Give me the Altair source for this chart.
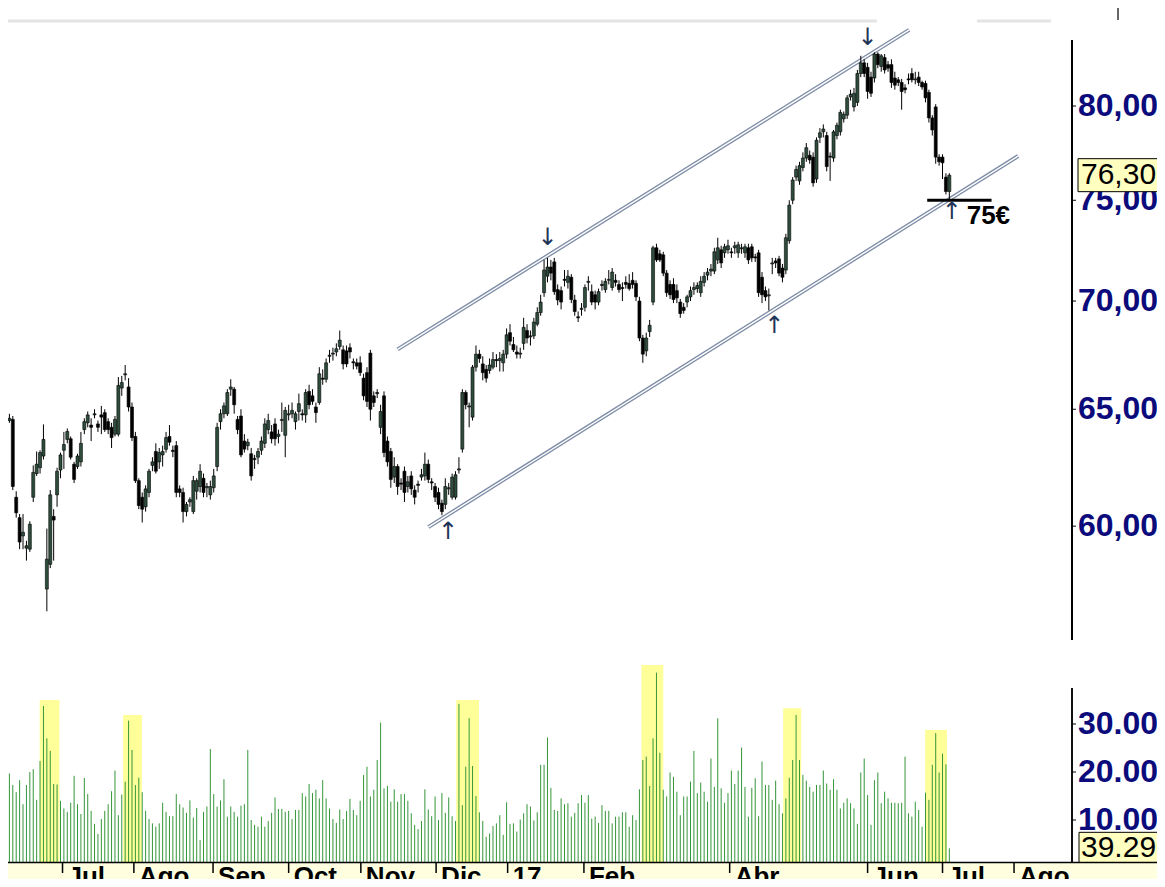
import altair as alt
import pandas as pd

# ---------------- data ----------------
opens = [
    64.3, 64.5, 64.55, 61.2, 60.35, 59.6, 59.1, 59.06, 61.2, 62.2,
    62.45, 62.95, 57.47, 58.45, 60.4, 61.3, 62.35, 63.2, 63.67, 63.7,
    62.6, 62.5, 62.7, 64.1, 64.4, 64.3, 64.75, 64.35, 64.75, 64.85,
    64.45, 64.2, 63.9, 63.9, 65.95, 66.55, 66.0, 65.1, 63.8, 61.9,
    61.2, 60.8, 61.4, 62.55, 63.15, 62.7, 63.0, 63.24, 63.8, 63.2,
    63.4, 61.55, 61.4, 60.6, 61.0, 60.6, 61.45, 61.65, 62.0, 61.6,
    61.3, 61.6, 62.5, 64.45, 64.8, 64.8, 65.9, 65.9, 64.55, 64.7,
    63.6, 63.4, 63.05, 62.85, 62.9, 63.2, 63.5, 64.1, 64.0, 64.35,
    63.8, 64.5, 63.85, 64.75, 64.8, 64.45, 64.9, 64.8, 64.75, 65.8,
    65.6, 65.1, 65.3, 66.4, 66.35, 67.4, 67.5, 67.6, 67.85, 67.7,
    67.65, 67.8, 67.15, 67.1, 67.1, 66.4, 66.65, 67.55, 65.6, 65.75,
    64.2, 65.6, 63.6, 63.15, 62.05, 62.5, 61.8, 62.3, 61.65, 62.1,
    61.5, 61.75, 62.05, 62.1, 62.6, 61.85, 61.65, 61.4, 60.95, 60.9,
    61.55, 61.2, 61.2, 62.35, 63.25, 65.75, 65.1, 64.65, 66.9, 67.5,
    67.05, 66.8, 66.75, 66.9, 67.25, 67.2, 67.1, 67.5, 68.5, 67.95,
    67.6, 67.5, 68.0, 68.6, 68.3, 68.35, 68.9, 69.45, 70.4, 71.2,
    71.65, 71.9, 70.55, 70.5, 71.05, 70.9, 71.15, 70.05, 69.25, 69.6,
    69.7, 70.9, 70.45, 70.3, 69.95, 70.8, 70.55, 71.0, 70.65, 71.0,
    70.8, 70.65, 70.9, 70.85, 71.0, 70.85, 70.0, 68.25, 67.65, 68.55,
    69.95, 72.6, 72.3, 72.25, 71.35, 70.8, 70.8, 70.5, 69.95, 69.7,
    69.95, 70.2, 70.55, 70.6, 70.4, 70.9, 71.25, 71.45, 71.45, 72.0,
    72.5, 72.35, 72.5, 72.4, 72.6, 72.35, 72.55, 72.35, 72.6, 72.65,
    72.15, 72.35, 71.15, 70.5, 70.25, 71.8, 71.95, 72.05, 71.6, 71.5,
    72.95, 75.0, 76.2, 76.0, 76.7, 77.2, 77.35, 77.25, 76.1, 78.3,
    78.6, 78.4, 77.3, 77.2, 78.4, 78.6, 79.3, 79.5, 80.5, 79.95,
    80.2, 81.8, 82.4, 82.15, 81.6, 81.55, 82.9, 82.2, 82.7, 82.3,
    82.3, 81.55, 81.45, 81.3, 81.0, 81.5, 81.8, 81.45, 81.6, 81.3,
    81.25, 80.75, 79.35, 79.95, 77.25, 77.25, 76.2, 75.45,
]
highs = [
    64.7, 64.8, 64.7, 61.45, 60.5, 60.5, 59.4, 60.2, 62.55, 63.15,
    63.2, 64.33, 59.9, 61.5, 60.7, 62.45, 63.1, 64.0, 64.15, 63.8,
    62.7, 63.05, 64.0, 64.6, 64.9, 64.6, 65.0, 64.5, 65.15, 65.0,
    64.6, 64.4, 64.7, 66.45, 66.5, 67.0, 66.4, 65.3, 64.0, 62.0,
    61.4, 61.7, 62.4, 62.9, 63.5, 63.3, 63.4, 64.0, 64.3, 63.4,
    63.6, 61.7, 61.6, 61.0, 61.2, 62.1, 62.0, 62.6, 62.2, 61.8,
    61.9, 62.4, 64.4, 65.0, 65.3, 65.9, 66.35, 66.0, 64.7, 65.0,
    63.9, 63.7, 63.3, 63.0, 63.3, 63.8, 64.6, 64.8, 64.3, 64.6,
    64.1, 65.3, 65.1, 65.2, 65.3, 64.9, 65.7, 65.0, 65.9, 66.1,
    65.9, 65.3, 66.9, 66.8, 67.3, 67.7, 67.8, 68.0, 68.6, 67.9,
    67.9, 68.0, 67.3, 67.3, 67.4, 66.6, 66.9, 67.7, 65.8, 65.9,
    65.2, 65.8, 63.8, 63.3, 62.9, 62.6, 62.0, 62.5, 62.1, 62.3,
    61.7, 61.9, 62.4, 63.1, 62.8, 62.0, 61.8, 61.6, 61.1, 62.0,
    61.8, 62.2, 62.3, 62.9, 65.9, 65.85, 65.3, 67.0, 67.9, 67.7,
    67.4, 67.0, 67.3, 67.6, 67.5, 67.6, 67.7, 68.7, 68.9, 68.3,
    67.9, 67.8, 69.2, 68.9, 68.6, 69.2, 69.7, 70.3, 72.0, 72.1,
    72.0, 72.1, 70.8, 70.7, 71.5, 71.5, 71.3, 70.3, 69.5, 69.9,
    70.8, 71.2, 70.8, 70.5, 70.6, 71.0, 71.1, 71.5, 71.6, 71.3,
    71.0, 70.9, 71.2, 71.3, 71.4, 71.0, 70.2, 68.4, 68.5, 69.1,
    72.7, 72.8, 72.5, 72.4, 71.5, 71.0, 71.1, 70.8, 70.1, 69.9,
    70.3, 70.7, 70.9, 70.9, 71.2, 71.4, 71.6, 71.8, 72.6, 73.1,
    72.7, 72.8, 73.0, 72.6, 72.9, 72.9, 72.8, 72.8, 72.8, 72.8,
    72.3, 72.5, 71.4, 70.7, 70.6, 72.1, 72.1, 72.2, 71.8, 73.3,
    75.0, 76.2, 76.8, 77.0, 77.5, 78.0, 77.6, 77.5, 78.3, 78.8,
    79.0, 78.6, 77.5, 78.7, 79.1, 79.8, 79.7, 80.6, 80.9, 81.0,
    82.0, 82.8, 82.6, 82.4, 81.9, 83.0, 83.0, 82.9, 82.9, 82.5,
    82.6, 81.9, 81.6, 81.5, 81.2, 81.8, 82.1, 81.9, 81.9, 81.4,
    81.4, 80.9, 79.5, 80.1, 77.4, 77.4, 76.4, 76.4,
]
lows = [
    64.2, 64.4, 61.5, 60.35, 59.06, 59.06, 58.6, 58.95, 61.0, 62.1,
    62.2, 62.8, 56.6, 58.3, 58.6, 60.8, 62.0, 62.4, 63.5, 62.8,
    61.8, 62.4, 62.5, 63.9, 64.2, 63.6, 64.6, 64.0, 63.9, 64.0,
    63.9, 63.3, 63.8, 63.8, 65.6, 66.3, 64.9, 63.6, 61.8, 60.7,
    60.15, 60.6, 61.2, 62.3, 62.2, 62.4, 62.5, 63.1, 63.4, 62.9,
    61.2, 61.2, 60.15, 60.4, 60.8, 60.5, 61.1, 61.4, 61.2, 61.2,
    61.1, 61.4, 62.3, 64.1, 64.6, 64.7, 65.6, 64.8, 63.9, 62.9,
    63.1, 63.2, 61.9, 62.4, 62.6, 63.0, 63.3, 63.9, 63.5, 63.4,
    63.5, 64.0, 62.9, 64.5, 64.6, 64.1, 64.5, 64.5, 64.4, 65.0,
    65.2, 64.4, 65.2, 66.1, 66.2, 67.1, 67.2, 67.4, 67.7, 66.8,
    66.9, 67.3, 66.8, 66.8, 66.5, 65.4, 65.1, 64.5, 65.1, 65.5,
    63.9, 62.9, 62.5, 61.6, 61.8, 61.3, 61.5, 61.0, 61.4, 61.3,
    60.9, 61.4, 61.9, 61.9, 61.8, 61.5, 61.0, 60.7, 60.45, 60.7,
    61.3, 61.1, 61.1, 62.2, 63.1, 65.0, 64.2, 64.5, 66.7, 67.1,
    66.3, 66.2, 66.6, 66.8, 66.9, 66.7, 66.7, 67.3, 67.9, 67.6,
    67.3, 67.3, 67.7, 68.0, 67.9, 68.2, 68.8, 69.3, 70.2, 70.9,
    71.0, 70.3, 69.8, 69.6, 70.7, 70.6, 69.9, 69.3, 69.0, 69.3,
    69.5, 70.5, 69.8, 69.6, 69.8, 70.5, 70.4, 70.8, 70.5, 70.7,
    70.4, 70.0, 70.6, 70.5, 70.6, 70.0, 68.1, 67.1, 67.4, 68.3,
    69.8, 71.9, 71.9, 71.2, 70.2, 70.1, 69.9, 69.9, 69.2, 69.4,
    69.7, 70.0, 70.3, 70.4, 70.2, 70.7, 71.0, 71.2, 71.3, 71.8,
    71.6, 72.1, 72.3, 72.1, 72.3, 72.1, 72.3, 72.1, 71.8, 71.9,
    71.9, 70.2, 69.9, 70.0, 69.55, 71.3, 71.6, 71.2, 70.9, 71.3,
    72.8, 74.8, 76.0, 75.8, 76.5, 77.0, 76.9, 75.7, 75.9, 78.0,
    78.3, 76.5, 76.0, 77.0, 78.2, 78.4, 79.1, 79.3, 80.3, 79.7,
    80.0, 81.6, 81.6, 80.4, 80.5, 81.3, 82.1, 81.9, 81.8, 81.9,
    81.0, 80.9, 81.1, 79.8, 80.7, 81.2, 81.3, 81.2, 81.1, 80.9,
    80.2, 79.1, 78.4, 76.9, 76.8, 76.1, 75.3, 75.0,
]
closes = [
    64.5, 64.6, 61.65, 60.55, 59.35, 59.75, 59.2, 60.08, 62.25, 62.6,
    63.1, 63.67, 58.66, 61.3, 60.25, 62.3, 63.0, 63.45, 64.02, 62.9,
    61.95, 62.95, 63.5, 64.45, 64.75, 64.2, 64.8, 64.2, 64.65, 64.1,
    64.1, 63.75, 64.55, 66.07, 66.2, 66.6, 65.1, 63.75, 61.9, 60.85,
    60.7, 61.55, 62.3, 62.7, 62.3, 63.1, 63.15, 63.75, 63.55, 63.15,
    61.4, 61.4, 60.6, 60.9, 61.1, 61.9, 61.9, 62.3, 61.4, 61.65,
    61.65, 62.1, 64.2, 64.8, 65.15, 65.75, 66.0, 65.2, 64.1, 63.0,
    63.25, 63.55, 62.1, 62.8, 63.15, 63.6, 64.35, 64.5, 63.7, 63.7,
    63.9, 64.55, 64.95, 64.8, 64.95, 64.8, 65.25, 64.75, 65.75, 65.2,
    65.35, 64.85, 66.6, 66.35, 67.1, 67.45, 67.55, 67.75, 68.15, 67.05,
    67.05, 67.6, 67.1, 66.95, 66.65, 65.6, 65.35, 65.0, 65.3, 65.7,
    64.9, 63.1, 62.7, 61.95, 62.5, 61.65, 61.75, 61.4, 61.85, 61.55,
    61.2, 61.7, 62.15, 62.6, 61.95, 61.8, 61.2, 60.9, 60.6, 61.65,
    61.6, 62.05, 62.15, 62.4, 65.75, 65.2, 65.15, 66.9, 67.5, 67.3,
    66.65, 66.4, 67.0, 67.25, 67.2, 67.3, 67.5, 68.4, 68.1, 67.7,
    67.5, 67.55, 68.75, 68.25, 68.35, 69.0, 69.45, 69.95, 71.5, 71.65,
    71.35, 70.45, 70.05, 69.95, 71.0, 71.2, 70.07, 69.5, 69.2, 69.65,
    70.65, 70.95, 69.95, 69.95, 70.45, 70.75, 70.95, 71.05, 71.4, 70.9,
    70.55, 70.6, 70.8, 70.6, 70.8, 70.2, 68.25, 67.5, 68.25, 68.85,
    72.6, 72.0, 72.0, 71.35, 70.4, 70.3, 70.07, 70.15, 69.4, 69.55,
    70.2, 70.5, 70.65, 70.75, 70.95, 71.2, 71.4, 71.55, 72.4, 72.6,
    71.85, 72.65, 72.7, 72.35, 72.7, 72.75, 72.6, 72.65, 72.0, 72.1,
    72.1, 70.4, 70.3, 70.2, 70.3, 71.85, 71.85, 71.35, 71.15, 73.1,
    74.75, 76.05, 76.6, 76.8, 77.2, 77.75, 77.1, 75.9, 78.15, 78.55,
    78.75, 76.75, 77.25, 78.6, 78.95, 79.65, 79.55, 80.45, 80.65, 80.7,
    81.8, 82.4, 81.8, 80.8, 80.7, 82.9, 82.3, 82.8, 82.0, 82.1,
    81.3, 81.15, 81.3, 80.8, 80.9, 81.45, 81.45, 81.5, 81.3, 81.05,
    80.45, 79.35, 78.7, 77.25, 77.0, 76.95, 75.45, 76.3,
]
# volume in thousands of shares
volumes = [
    22.3, 19.7, 17.3, 15.8, 18.3, 13.3, 17.3, 20.0, 20.6, 14.2,
    22.3, 33.75, 27.0, 24.4, 17.5, 17.4, 14.0, 12.4, 11.7, 13.6,
    19.2, 13.3, 11.25, 18.75, 15.4, 11.9, 9.2, 7.1, 10.2, 11.9,
    13.3, 16.0, 20.3, 11.0, 15.3, 18.0, 30.7, 24.6, 17.3, 18.8,
    15.8, 11.9, 10.2, 9.3, 8.6, 9.3, 13.6, 11.7, 10.8, 10.8,
    15.4, 13.3, 12.6, 11.5, 14.1, 10.5, 12.5, 5.8, 11.7, 12.8,
    24.8, 15.4, 12.8, 14.1, 18.5, 10.7, 12.8, 11.7, 10.7, 13.0,
    13.3, 24.6, 10.0, 9.0, 8.6, 10.7, 8.6, 9.8, 11.5, 14.7,
    12.3, 12.3, 11.7, 11.9, 10.2, 12.1, 12.1, 15.6, 14.9, 17.5,
    15.6, 16.3, 14.5, 18.3, 14.5, 12.4, 10.2, 9.4, 12.2, 10.2,
    11.9, 14.4, 12.1, 11.0, 14.0, 19.4, 21.1, 14.9, 16.3, 22.5,
    30.3, 16.6, 17.1, 13.8, 16.4, 13.8, 15.4, 15.4, 14.0, 11.4,
    9.0, 8.1, 9.8, 16.4, 12.2, 10.8, 14.9, 10.0, 15.6, 11.5,
    14.7, 10.8, 9.8, 34.2, 13.1, 21.1, 31.2, 21.25, 15.0, 11.6,
    9.8, 6.5, 7.2, 8.75, 9.3, 11.0, 6.9, 13.7, 9.2, 9.3,
    7.6, 10.1, 11.4, 13.3, 12.8, 9.9, 11.6, 21.5, 21.5, 27.2,
    16.7, 12.1, 11.9, 14.5, 13.3, 13.5, 10.7, 11.5, 13.5, 15.2,
    13.6, 15.2, 10.3, 10.7, 9.4, 13.1, 11.9, 11.9, 9.3, 10.7,
    10.7, 11.6, 11.6, 8.6, 11.0, 10.0, 16.4, 22.5, 23.2, 17.1,
    27.0, 40.7, 24.0, 16.3, 14.9, 19.9, 19.0, 15.9, 11.0, 14.9,
    14.9, 18.0, 24.4, 15.6, 17.8, 15.9, 13.8, 22.8, 16.9, 31.2,
    16.6, 13.6, 15.6, 20.3, 17.5, 20.3, 25.1, 16.9, 10.7, 16.7,
    18.7, 10.8, 22.2, 17.3, 17.3, 14.2, 18.2, 13.3, 11.4, 14.5,
    18.8, 22.5, 31.9, 22.5, 19.4, 18.2, 16.9, 15.9, 17.3, 17.3,
    20.3, 17.6, 16.3, 18.5, 16.3, 12.4, 13.6, 14.5, 13.5, 12.4,
    9.2, 19.9, 22.8, 15.2, 9.0, 18.3, 19.9, 13.5, 15.9, 14.5,
    13.6, 13.6, 13.5, 13.6, 23.2, 11.4, 10.7, 13.8, 12.1, 8.6,
    15.7, 14.2, 21.5, 28.1, 19.9, 23.8, 21.6, 4.1,
]

# month boundaries on the trading-day axis and their labels
month_labels = ["Jul", "Ago", "Sep", "Oct", "Nov", "Dic", "17", "Feb", "Abr", "Jun", "Jul", "Ago"]
month_pos = [16.6, 37.55, 60.8, 83.0, 104.2, 126.3, 147.3, 169.7, 212.5, 253.0, 275.0, 296.0]

price_ticks = [60, 65, 70, 75, 80]
volume_ticks = [10, 20, 30]

# yellow high-volume highlights (trading-day span, top in thousands)
hl_start = [9.9, 34.4, 132.2, 186.6, 228.2, 269.9]
hl_end = [15.7, 39.9, 138.9, 193.0, 233.5, 276.3]
hl_top = [35.0, 31.9, 35.0, 42.3, 33.3, 28.75]

# rising channel (upper and lower line end points)
ch_name = ["upper", "lower"]
ch_k0 = [115.0, 124.0]
ch_p0 = [67.72, 59.96]
ch_k1 = [265.2, 297.2]
ch_p1 = [84.28, 77.31]

# touch arrows
arrow_k = [159.0, 253.0, 129.8, 225.6, 277.7]
arrow_p = [73.1, 83.82, 59.76, 68.8, 74.4]
arrow_glyph = ["↓", "↓", "↑", "↑", "↑"]

# 75 € support
support_k0, support_k1, support_price = 270.5, 289.4, 75.0
support_label, support_label_k, support_label_p = "75€", 282.1, 74.2

last_price_text = "76,30"
last_price = 76.30
last_volume_text = "39.290"

# ---------------- layout ----------------
# negative padding cancels the page margin so chart coordinates equal page pixels
W, H = 1165, 887
FONT = "Liberation Sans"
NAVY = "#0b0b7c"
X = alt.Scale(domain=[-0.291, 338.86], nice=False, zero=False)
PRICE = alt.Scale(type="log", domain=[55.5, 83.7], range=[640, 40], nice=False)
VOL = alt.Scale(domain=[0, 40], range=[868, 676], nice=False, zero=False)

df = pd.DataFrame({
    "k": list(range(len(closes))),
    "open": opens, "high": highs, "low": lows, "close": closes, "vol": volumes,
})


def xk(field):
    return alt.X(field, scale=X, axis=None)


def yp(field):
    return alt.Y(field, scale=PRICE, axis=None)


def yv(field):
    return alt.Y(field, scale=VOL, axis=None)


one = pd.DataFrame({"a": [0]})
layers = []

# top decoration
layers.append(alt.Chart(one).mark_rule(color="#e4e4e4", strokeWidth=3).encode(
    x=alt.value(0), x2=alt.value(877), y=alt.value(21)))
layers.append(alt.Chart(one).mark_rule(color="#e4e4e4", strokeWidth=3).encode(
    x=alt.value(977), x2=alt.value(1051), y=alt.value(21)))
layers.append(alt.Chart(one).mark_rule(color="black", strokeWidth=1.2).encode(
    x=alt.value(1118), y=alt.value(8), y2=alt.value(20)))

# volume highlights + bars
hl_df = pd.DataFrame({"k0": hl_start, "k1": hl_end, "top": hl_top})
layers.append(alt.Chart(hl_df).mark_rect(color="#ffff99").encode(
    x=xk("k0:Q"), x2="k1:Q", y=yv("top:Q"), y2=alt.datum(0)))
layers.append(alt.Chart(df).mark_rule(color="#35963a", strokeWidth=1, clip=True).encode(
    x=xk("k:Q"), y=yv("vol:Q"), y2=alt.datum(0)))

# channel lines (double line)
ch_rows = []
for n, a, b, c, d in zip(ch_name, ch_k0, ch_p0, ch_k1, ch_p1):
    ch_rows.append({"line": n, "k": a, "p": b})
    ch_rows.append({"line": n, "k": c, "p": d})
ch_df = pd.DataFrame(ch_rows)
layers.append(alt.Chart(ch_df).mark_line(color="#7d8ba6", strokeWidth=4).encode(
    x=xk("k:Q"), y=yp("p:Q"), detail="line:N"))
layers.append(alt.Chart(ch_df).mark_line(color="white", strokeWidth=1.4).encode(
    x=xk("k:Q"), y=yp("p:Q"), detail="line:N"))

# candles
layers.append(alt.Chart(df).mark_rule(color="black", strokeWidth=1, clip=True).encode(
    x=xk("k:Q"), y=yp("low:Q"), y2="high:Q"))
layers.append(alt.Chart(df).mark_bar(size=3, stroke="black", strokeWidth=0.6, clip=True).encode(
    x=xk("k:Q"), y=yp("open:Q"), y2="close:Q",
    color=alt.condition("datum.close >= datum.open", alt.value("#2e4d3d"), alt.value("black"))))

# support line and label
sup_df = pd.DataFrame({"k0": [support_k0], "k1": [support_k1], "p": [support_price],
                       "lk": [support_label_k], "lp": [support_label_p], "t": [support_label]})
layers.append(alt.Chart(sup_df).mark_rule(color="black", strokeWidth=3).encode(
    x=xk("k0:Q"), x2="k1:Q", y=yp("p:Q")))
layers.append(alt.Chart(sup_df).mark_text(align="left", baseline="middle", font=FONT, fontSize=26,
                                          fontWeight="bold", color="black").encode(
    x=xk("lk:Q"), y=yp("lp:Q"), text="t:N"))

# arrows
ar_df = pd.DataFrame({"k": arrow_k, "p": arrow_p, "g": arrow_glyph})
layers.append(alt.Chart(ar_df).mark_text(align="center", baseline="middle", font="DejaVu Sans",
                                         fontSize=24, color="#1f3557").encode(
    x=xk("k:Q"), y=yp("p:Q"), text="g:N"))

# price axis
pt_df = pd.DataFrame({"p": price_ticks, "lab": [f"{v:.2f}".replace(".", ",") for v in price_ticks]})
layers.append(alt.Chart(pt_df).mark_rule(color="black", strokeWidth=1.2).encode(
    x=alt.value(1072), y=alt.value(40), y2=alt.value(640)))
layers.append(alt.Chart(pt_df).mark_rule(color="black", strokeWidth=1).encode(
    x=alt.value(1072), x2=alt.value(1076), y=yp("p:Q")))
layers.append(alt.Chart(pt_df).mark_text(align="left", baseline="middle", font=FONT, fontSize=32,
                                         fontWeight="bold", color=NAVY, clip=True).encode(
    x=alt.value(1078), y=yp("p:Q"), text="lab:N"))

# last price box
lp_df = pd.DataFrame({"p": [last_price], "t": [last_price_text]})
layers.append(alt.Chart(lp_df).mark_tick(orient="horizontal", size=85, thickness=33, filled=True,
                                         color="#ffffc0", stroke="black", strokeWidth=1, opacity=1).encode(
    x=alt.value(1120.5), y=yp("p:Q")))
layers.append(alt.Chart(lp_df).mark_text(align="left", baseline="middle", font=FONT, fontSize=30,
                                         color="black").encode(
    x=alt.value(1081), y=yp("p:Q"), text="t:N"))

# volume axis
vt_df = pd.DataFrame({"v": volume_ticks,
                      "lab": [f"{v * 1000:,.0f}".replace(",", ".") for v in volume_ticks]})
layers.append(alt.Chart(vt_df).mark_rule(color="black", strokeWidth=1.2).encode(
    x=alt.value(1072), y=alt.value(688), y2=alt.value(862)))
layers.append(alt.Chart(vt_df).mark_rule(color="black", strokeWidth=1).encode(
    x=alt.value(1072), x2=alt.value(1076), y=yv("v:Q")))
layers.append(alt.Chart(vt_df).mark_text(align="left", baseline="middle", font=FONT, fontSize=32,
                                         fontWeight="bold", color=NAVY, clip=True).encode(
    x=alt.value(1078), y=yv("v:Q"), text="lab:N"))

# last volume box
lv_df = pd.DataFrame({"v": [volumes[-1]], "t": [last_volume_text]})
layers.append(alt.Chart(lv_df).mark_tick(orient="horizontal", size=100, thickness=32, filled=True,
                                         color="#ffffc0", stroke="black", strokeWidth=1, opacity=1,
                                         clip=True).encode(
    x=alt.value(1129), y=yv("v:Q")))
layers.append(alt.Chart(lv_df).mark_text(align="left", baseline="middle", font=FONT, fontSize=30,
                                         color="black", clip=True).encode(
    x=alt.value(1081), y=yv("v:Q"), text="t:N"))

# time strip
mo_df = pd.DataFrame({"pos": month_pos, "lab": month_labels})
layers.append(alt.Chart(one).mark_rect(color="#ffffe0").encode(
    x=alt.value(0), x2=alt.value(W), y=alt.value(863), y2=alt.value(H)))
layers.append(alt.Chart(one).mark_rule(color="black", strokeWidth=1.5).encode(
    x=alt.value(0), x2=alt.value(W), y=alt.value(862.5)))
layers.append(alt.Chart(mo_df).mark_rule(color="black", strokeWidth=1.5).encode(
    x=xk("pos:Q"), y=alt.value(863), y2=alt.value(873)))
layers.append(alt.Chart(mo_df).mark_text(align="left", baseline="alphabetic", dx=5, font=FONT,
                                         fontSize=26, fontWeight="bold", color="black",
                                         clip=True).encode(
    x=xk("pos:Q"), y=alt.value(885), text="lab:N"))

chart = (
    alt.layer(*layers)
    .resolve_scale(y="independent")
    .properties(width=W, height=H,
                padding={"left": -8, "top": -8, "right": -8, "bottom": -8},
                autosize=alt.AutoSizeParams(type="none"))
    .configure_view(stroke=None)
)

chart.save("out.html", embed_options={"renderer": "svg", "actions": False})
